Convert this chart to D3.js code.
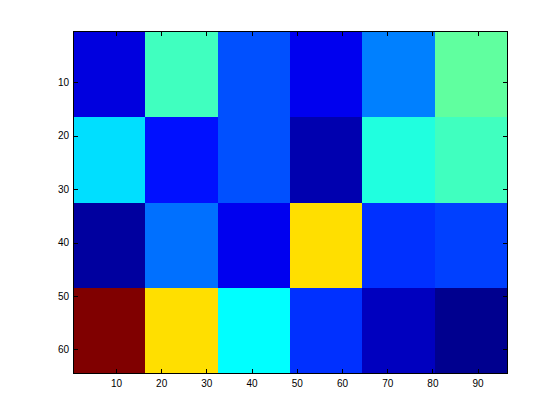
<!DOCTYPE html>
<html>
<head>
<meta charset="utf-8">
<script src="https://cdn.jsdelivr.net/npm/d3@7"></script>
<style>
  body { margin: 0; background: #fff; }
  .tick text { font-family: "Liberation Sans", Arial, sans-serif; font-size: 10px; fill: #000; }
</style>
</head>
<body>
<div class="viz"></div>
<script>
// image values (colormap indices, scaled like imagesc) - one array per block row
var row1 = [6, 28, 13, 7, 16, 30];
var row2 = [22, 9, 13, 3, 26, 28];
var row3 = [2, 15, 7, 42, 11, 12];
var row4 = [64, 42, 24, 11, 4, 1];
var rows = [row1, row2, row3, row4];

var blockSize = 16;          // each block covers 16x16 pixels of the image
var xTicks = [10, 20, 30, 40, 50, 60, 70, 80, 90];
var yTicks = [10, 20, 30, 40, 50, 60];

// Defining SVG
var W = 560, H = 420;
var margin = {top: 31.5, right: 53, bottom: 46.5, left: 73};
var width = W - margin.left - margin.right;
var height = H - margin.top - margin.bottom;

var svg = d3.select('.viz')
  .append('svg')
  .attr('width', W)
  .attr('height', H)
  .append('g')
  .attr('transform', 'translate(' + margin.left + ',' + margin.top + ')');

// jet(64) colormap like matlab
function jet(m) {
  var n = Math.ceil(m / 4);
  var u = [];
  for (var i = 1; i <= n; i++) u.push(i / n);
  for (var i = 1; i < n; i++) u.push(1);
  for (var i = n; i >= 1; i--) u.push(i / n);
  var g0 = Math.ceil(n / 2) - (m % 4 == 1 ? 1 : 0);
  var cols = [];
  for (var k = 0; k < m; k++) cols.push([0, 0, 0]);
  u.forEach(function(v, j) {
    var gi = g0 + j, ri = gi + n, bi = gi - n;   // zero based
    if (gi < m) cols[gi][1] = v;
    if (ri < m) cols[ri][0] = v;
    if (bi >= 0 && bi < m) cols[bi][2] = v;
  });
  return cols.map(function(c) {
    return d3.rgb(Math.round(c[0] * 255), Math.round(c[1] * 255), Math.round(c[2] * 255)).toString();
  });
}

var nCols = row1.length, nRows = rows.length;
var xMax = nCols * blockSize, yMax = nRows * blockSize;

var xScale = d3.scaleLinear().domain([0.5, xMax + 0.5]).range([0, width]);
var yScale = d3.scaleLinear().domain([0.5, yMax + 0.5]).range([0, height]);

var allVals = d3.merge(rows);
var color = d3.scaleQuantize()
  .domain([d3.min(allVals), d3.max(allVals)])
  .range(jet(64));

// cells
var cells = [];
rows.forEach(function(r, ri) {
  r.forEach(function(v, ci) { cells.push({r: ri, c: ci, v: v}); });
});

svg.selectAll('.cell')
  .data(cells)
  .enter().append('rect')
  .attr('class', 'cell')
  .attr('x', function(d) { return xScale(d.c * blockSize + 0.5); })
  .attr('y', function(d) { return yScale(d.r * blockSize + 0.5); })
  .attr('width', function(d) { return xScale((d.c + 1) * blockSize + 0.5) - xScale(d.c * blockSize + 0.5); })
  .attr('height', function(d) { return yScale((d.r + 1) * blockSize + 0.5) - yScale(d.r * blockSize + 0.5); })
  .attr('fill', function(d) { return color(d.v); })
  .attr('shape-rendering', 'crispEdges');

// axes, ticks pointing inward, box on
var tl = 4.5;
svg.append('g')
  .attr('transform', 'translate(0,' + height + ')')
  .call(d3.axisBottom(xScale).tickValues(xTicks).tickSize(-tl).tickPadding(6.5).tickSizeOuter(0))
  .call(function(g) { g.select('.domain').remove(); });

svg.append('g')
  .call(d3.axisTop(xScale).tickValues(xTicks).tickSize(-tl).tickFormat('').tickSizeOuter(0))
  .call(function(g) { g.select('.domain').remove(); });

svg.append('g')
  .call(d3.axisLeft(yScale).tickValues(yTicks).tickSize(-tl).tickPadding(4).tickSizeOuter(0))
  .call(function(g) { g.select('.domain').remove(); });

svg.append('g')
  .attr('transform', 'translate(' + width + ',0)')
  .call(d3.axisRight(yScale).tickValues(yTicks).tickSize(-tl).tickFormat('').tickSizeOuter(0))
  .call(function(g) { g.select('.domain').remove(); });

svg.selectAll('.tick line').attr('stroke', '#000').attr('shape-rendering', 'crispEdges');

svg.append('rect')
  .attr('x', 0)
  .attr('y', 0)
  .attr('width', width)
  .attr('height', height)
  .attr('fill', 'none')
  .attr('stroke', '#000')
  .attr('shape-rendering', 'crispEdges');
</script>
</body>
</html>
